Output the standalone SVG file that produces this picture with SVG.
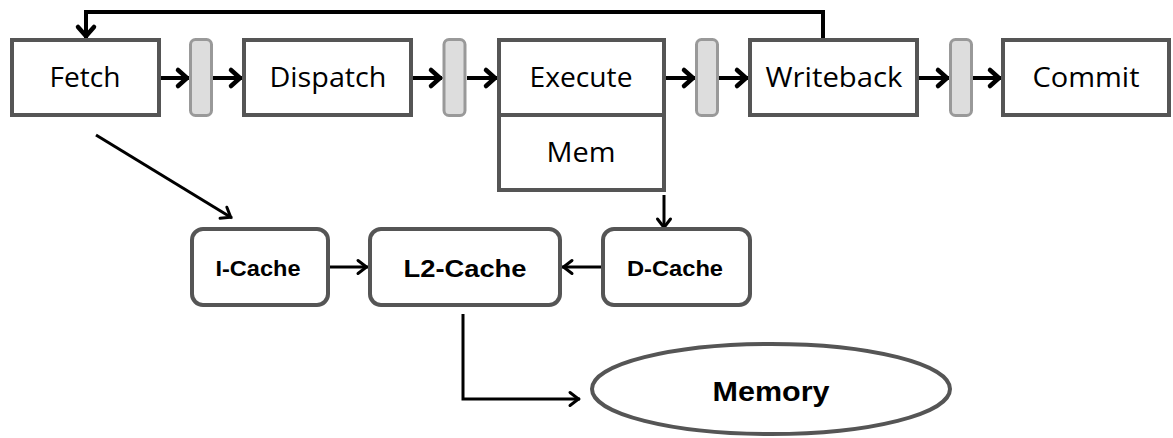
<svg xmlns="http://www.w3.org/2000/svg" width="1173" height="438" viewBox="0 0 1173 438">
  <style>
    .stage { fill: #ffffff; stroke: #555555; stroke-width: 4; }
    .latch { fill: #dddddd; stroke: #999999; stroke-width: 3; }
    .cache { fill: #ffffff; stroke: #555555; stroke-width: 4; }
    .lbl { font-family: "Open Sans", "Liberation Sans", sans-serif; font-size: 27px; fill: #000000; text-anchor: middle; }
    .blbl { font-family: "Liberation Sans", Arial, sans-serif; font-weight: bold; fill: #000000; text-anchor: middle; }
    .thick { fill: none; stroke: #000000; stroke-width: 4; marker-end: url(#headThick); }
    .thin { fill: none; stroke: #000000; stroke-width: 3; marker-end: url(#headThin); }
  </style>
  <defs>
    <marker id="headThick" markerUnits="userSpaceOnUse" viewBox="-14 -10 16 20" refX="0" refY="0" markerWidth="16" markerHeight="20" orient="auto" overflow="visible">
      <path d="M-11,-8 L-2,0 L-11,8" fill="none" stroke="#000000" stroke-width="4.5" stroke-linejoin="miter" stroke-linecap="round"/>
    </marker>
    <marker id="headThin" markerUnits="userSpaceOnUse" viewBox="-14 -10 16 20" refX="0" refY="0" markerWidth="16" markerHeight="20" orient="auto" overflow="visible">
      <path d="M-10,-6.5 L-1.5,0 L-10,6.5" fill="none" stroke="#000000" stroke-width="3" stroke-linejoin="miter" stroke-linecap="round"/>
    </marker>
  </defs>

  <!-- connectors -->
  <g id="connectors">
    <!-- pipeline flow through the latches -->
    <line class="thick" x1="161" y1="78" x2="189" y2="78"/>
    <line class="thick" x1="212" y1="78" x2="242" y2="78"/>
    <line class="thick" x1="413" y1="78" x2="442" y2="78"/>
    <line class="thick" x1="467" y1="78" x2="497" y2="78"/>
    <line class="thick" x1="666" y1="78" x2="695" y2="78"/>
    <line class="thick" x1="719" y1="78" x2="748" y2="78"/>
    <line class="thick" x1="919" y1="78" x2="949" y2="78"/>
    <line class="thick" x1="973" y1="78" x2="1001" y2="78"/>
    <!-- writeback feedback to fetch -->
    <path class="thick" d="M823,38 V12 H86 V38"/>
    <!-- memory hierarchy -->
    <line class="thin" x1="96" y1="135" x2="232" y2="218"/>
    <line class="thin" x1="664" y1="195" x2="664" y2="229"/>
    <line class="thin" x1="330" y1="267" x2="368" y2="267"/>
    <line class="thin" x1="601" y1="267" x2="562" y2="267"/>
    <path class="thin" d="M463,314 V399 H580"/>
  </g>

  <!-- pipeline stages -->
  <g id="fetch">
    <rect class="stage" x="12" y="40" width="147" height="75"/>
    <text class="lbl" x="85" y="87" textLength="71" lengthAdjust="spacingAndGlyphs">Fetch</text>
  </g>
  <g id="latch1"><rect class="latch" x="190.5" y="39.5" width="21" height="76" rx="5"/></g>
  <g id="dispatch">
    <rect class="stage" x="244" y="40" width="167" height="75"/>
    <text class="lbl" x="328" y="87" textLength="117" lengthAdjust="spacingAndGlyphs">Dispatch</text>
  </g>
  <g id="latch2"><rect class="latch" x="444" y="39.5" width="21" height="76" rx="5"/></g>
  <g id="execute">
    <rect class="stage" x="499" y="40" width="165" height="75"/>
    <text class="lbl" x="581" y="87" textLength="103" lengthAdjust="spacingAndGlyphs">Execute</text>
  </g>
  <g id="mem">
    <rect class="stage" x="499" y="115" width="165" height="75"/>
    <text class="lbl" x="581" y="162" textLength="69" lengthAdjust="spacingAndGlyphs">Mem</text>
  </g>
  <g id="latch3"><rect class="latch" x="696.5" y="39.5" width="21" height="76" rx="5"/></g>
  <g id="writeback">
    <rect class="stage" x="750" y="40" width="167" height="75"/>
    <text class="lbl" x="834" y="87" textLength="137" lengthAdjust="spacingAndGlyphs">Writeback</text>
  </g>
  <g id="latch4"><rect class="latch" x="950.5" y="39.5" width="21" height="76" rx="5"/></g>
  <g id="commit">
    <rect class="stage" x="1003" y="40" width="166" height="75"/>
    <text class="lbl" x="1086" y="87" textLength="107" lengthAdjust="spacingAndGlyphs">Commit</text>
  </g>

  <!-- caches and memory -->
  <g id="icache">
    <rect class="cache" x="192" y="229" width="136" height="76" rx="11"/>
    <text class="blbl" x="258" y="276" font-size="22" textLength="85" lengthAdjust="spacingAndGlyphs">I-Cache</text>
  </g>
  <g id="l2cache">
    <rect class="cache" x="370" y="229" width="190" height="76" rx="11"/>
    <text class="blbl" x="465" y="277" font-size="24" textLength="123" lengthAdjust="spacingAndGlyphs">L2-Cache</text>
  </g>
  <g id="dcache">
    <rect class="cache" x="603" y="229" width="147" height="76" rx="11"/>
    <text class="blbl" x="675" y="276" font-size="22" textLength="96" lengthAdjust="spacingAndGlyphs">D-Cache</text>
  </g>
  <g id="memory">
    <ellipse class="cache" cx="771" cy="389" rx="179" ry="45"/>
    <text class="blbl" x="771" y="401" font-size="27" textLength="117" lengthAdjust="spacingAndGlyphs">Memory</text>
  </g>
</svg>
